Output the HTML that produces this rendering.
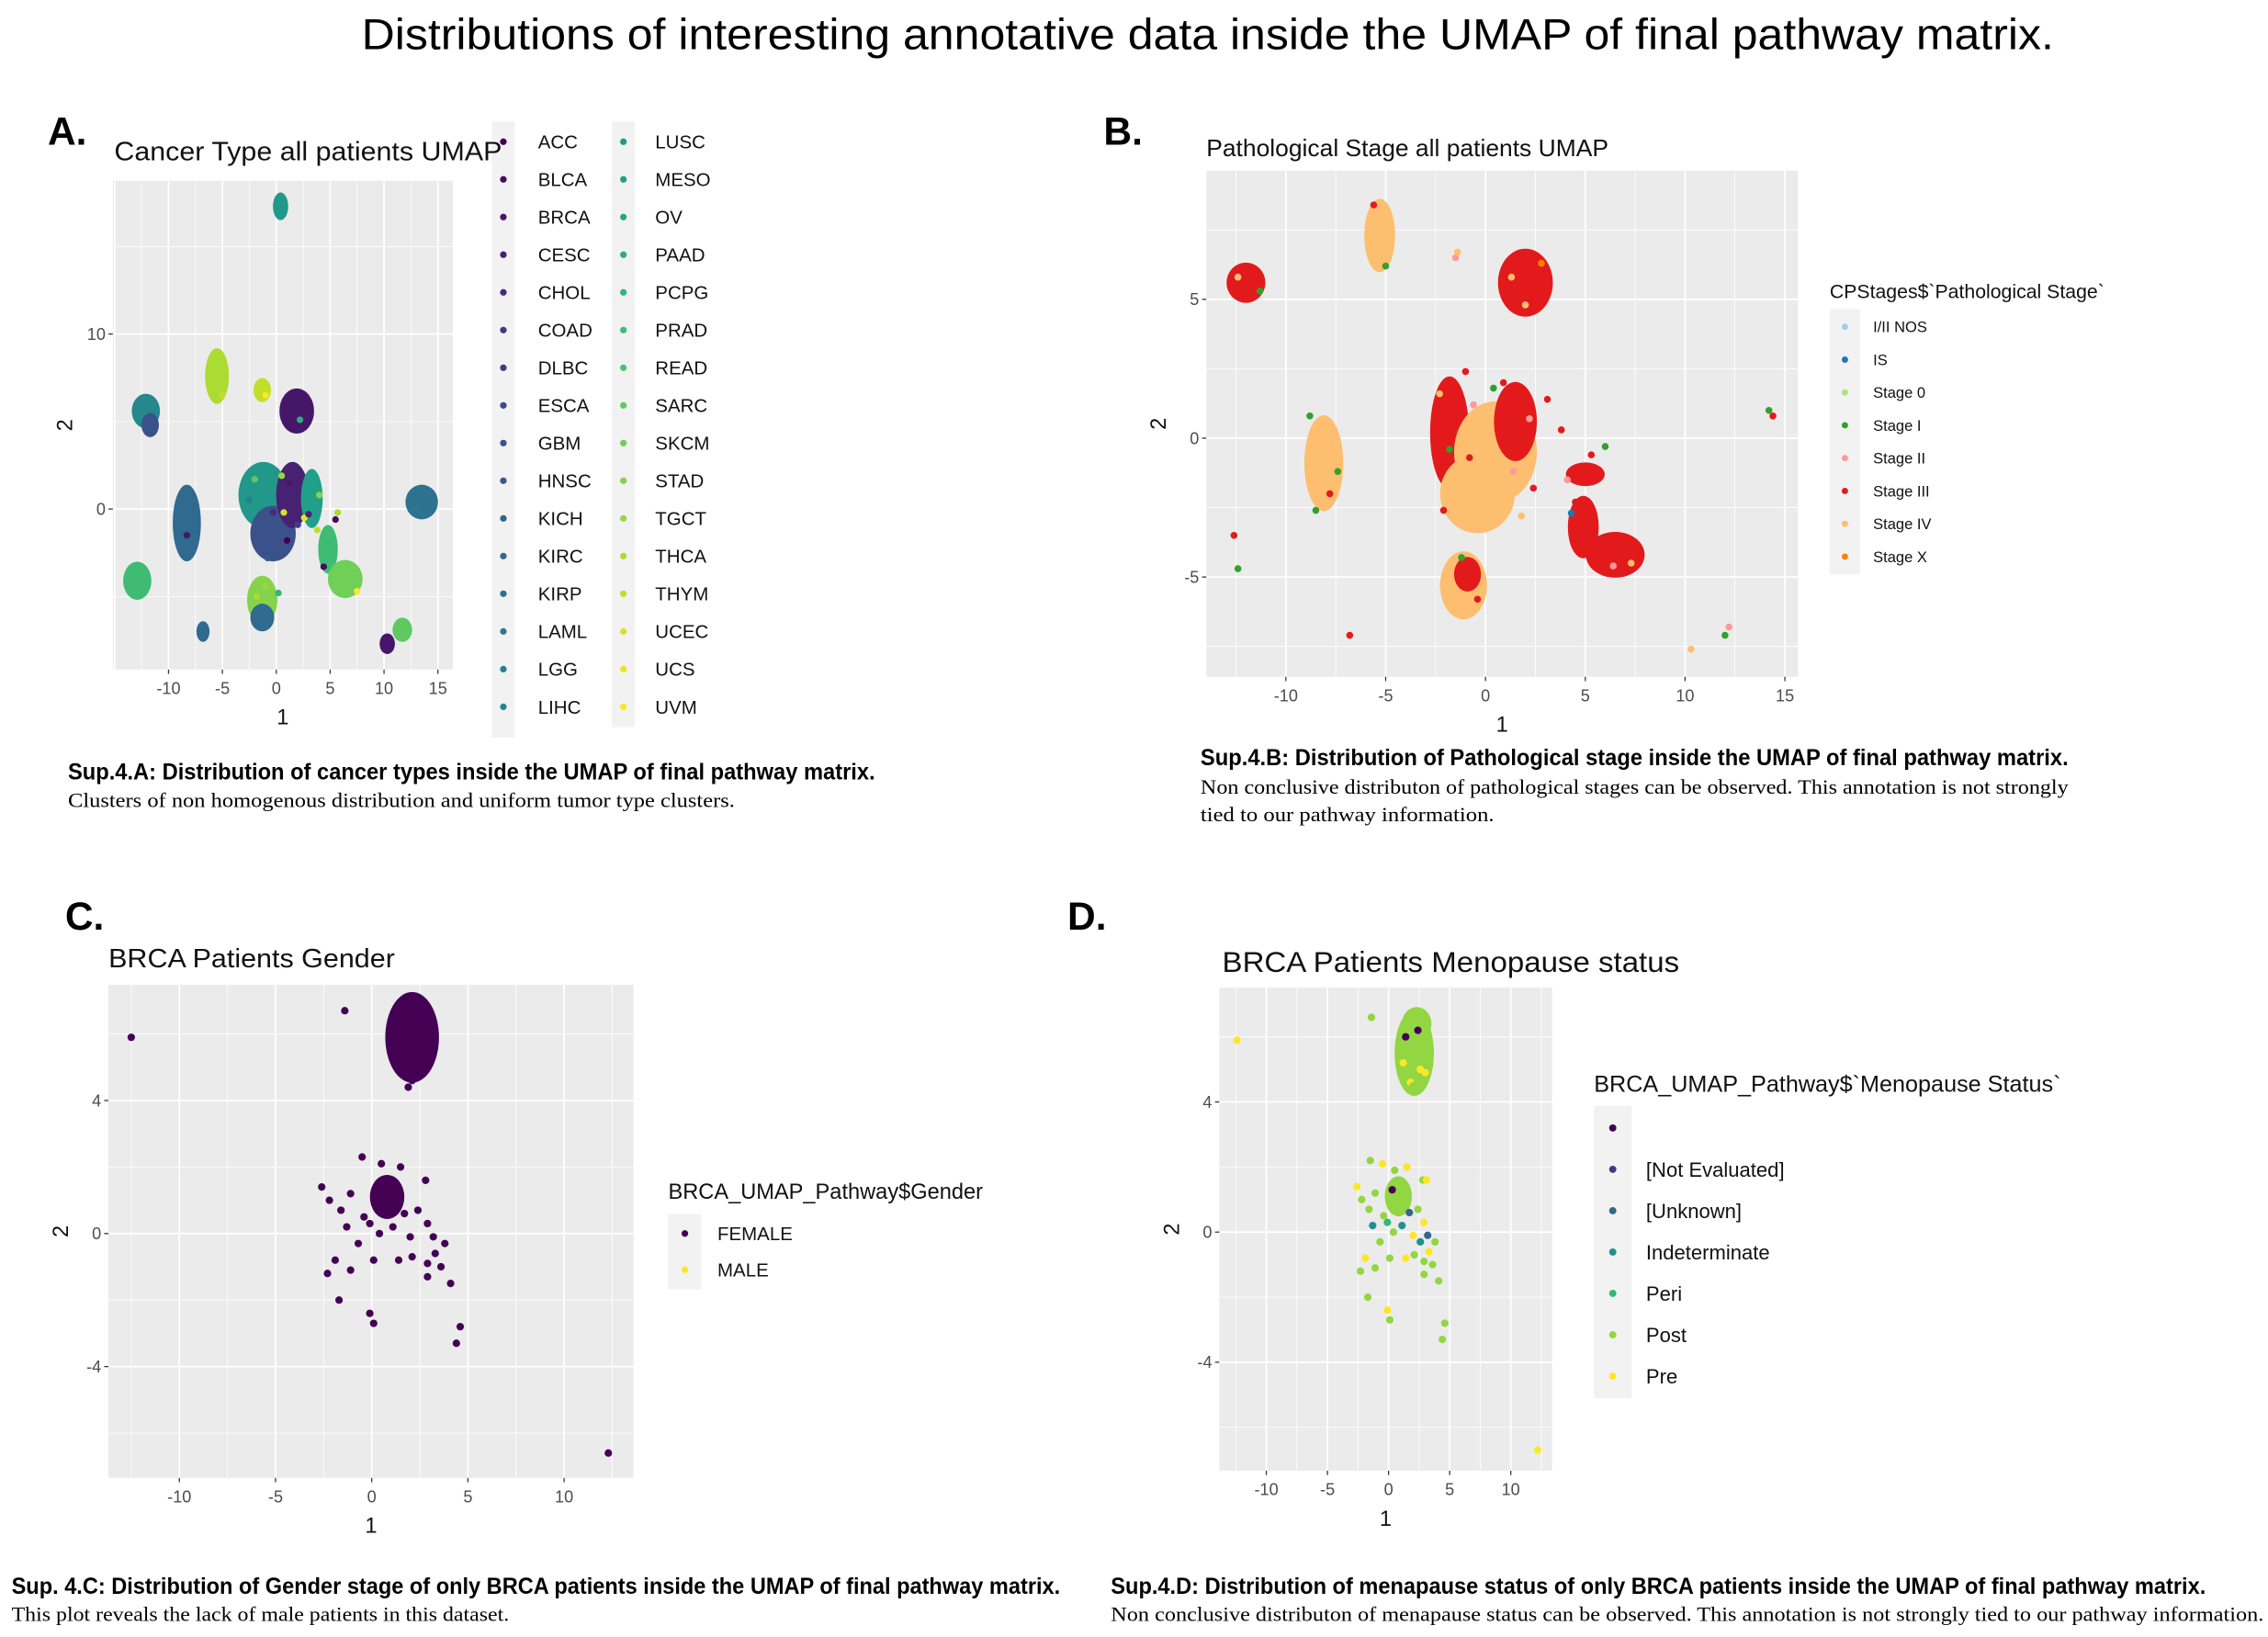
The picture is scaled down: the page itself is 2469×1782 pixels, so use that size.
<!DOCTYPE html>
<html><head><meta charset="utf-8"><style>
html,body{margin:0;padding:0;background:#fff;}
svg{display:block;}
</style></head><body>
<svg id="root" xmlns="http://www.w3.org/2000/svg" width="2469" height="1782" viewBox="0 0 1568 1132" preserveAspectRatio="none" font-family="Liberation Sans, sans-serif">
<rect width="1568" height="1132" fill="#fff"/>
<text x="250" y="34" font-size="30" textLength="1170" lengthAdjust="spacingAndGlyphs" fill="#000">Distributions of interesting annotative data inside the UMAP of final pathway matrix.</text>

<g font-family="Liberation Sans Narrow, Liberation Sans, sans-serif" font-weight="bold" font-size="27" fill="#000">
<text x="33" y="100">A.</text>
<text x="763" y="100">B.</text>
<text x="45" y="643">C.</text>
<text x="738" y="643">D.</text>
</g>

<g id="charts"></g>

<g font-size="18" fill="#111">
<text x="79" y="111" textLength="268" lengthAdjust="spacingAndGlyphs">Cancer Type all patients UMAP</text>
<text x="834" y="108" font-size="16.5" textLength="278" lengthAdjust="spacingAndGlyphs">Pathological Stage all patients UMAP</text>
<text x="75" y="669" textLength="198" lengthAdjust="spacingAndGlyphs">BRCA Patients Gender</text>
<text x="845" y="672" font-size="20" textLength="316" lengthAdjust="spacingAndGlyphs">BRCA Patients Menopause status</text>
</g>

<g font-family="Liberation Sans Narrow, Liberation Sans, sans-serif" font-weight="bold" font-size="16" fill="#000">
<text x="47" y="539" textLength="558" lengthAdjust="spacingAndGlyphs">Sup.4.A: Distribution of cancer types inside the UMAP of final pathway matrix.</text>
<text x="830" y="529" textLength="600" lengthAdjust="spacingAndGlyphs">Sup.4.B: Distribution of Pathological stage inside the UMAP of final pathway matrix.</text>
<text x="8" y="1102" textLength="725" lengthAdjust="spacingAndGlyphs">Sup. 4.C: Distribution of Gender stage of only BRCA patients inside the UMAP of final pathway matrix.</text>
<text x="768" y="1102" textLength="757" lengthAdjust="spacingAndGlyphs">Sup.4.D: Distribution of menapause status of only BRCA patients inside the UMAP of final pathway matrix.</text>
</g>
<g font-family="Liberation Serif, serif" font-size="14" fill="#000">
<text x="47" y="558" textLength="461" lengthAdjust="spacingAndGlyphs">Clusters of non homogenous distribution and uniform tumor type clusters.</text>
<text x="830" y="549" textLength="600" lengthAdjust="spacingAndGlyphs">Non conclusive distributon of pathological stages can be observed. This annotation is not strongly</text>
<text x="830" y="568" textLength="203" lengthAdjust="spacingAndGlyphs">tied to our pathway information.</text>
<text x="8" y="1121" textLength="344" lengthAdjust="spacingAndGlyphs">This plot reveals the lack of male patients in this dataset.</text>
<text x="768" y="1121" textLength="797" lengthAdjust="spacingAndGlyphs">Non conclusive distributon of menapause status can be observed. This annotation is not strongly tied to our pathway information.</text>
</g>
</svg>
<script>
// ---------- Chart A data (cancer types) ----------
const catsA = ['ACC','BLCA','BRCA','CESC','CHOL','COAD','DLBC','ESCA','GBM','HNSC','KICH','KIRC','KIRP','LAML','LGG','LIHC','LUAD','LUSC','MESO','OV','PAAD','PCPG','PRAD','READ','SARC','SKCM','STAD','TGCT','THCA','THYM','UCEC','UCS','UVM'];
const ticksAx = [-10,-5,0,5,10,15];
const ticksAy = [0,10];
const blobAx = [0.4,-12.1,-11.7,-5.5,-1.3,1.9,-8.3,-12.9,-1.2,-0.3,1.5,3.3,4.8,6.4,-1.3,-1.3,13.5,-6.8,10.3,11.7];
const blobAy = [17.3,5.6,4.8,7.6,6.8,5.6,-0.8,-4.1,0.8,-1.4,0.8,0.6,-2.3,-4.0,-5.2,-6.2,0.4,-7.0,-7.7,-6.9];
const blobArx = [0.4,1.0,0.5,0.8,0.5,1.3,1.0,1.0,2.0,1.8,1.2,0.7,0.6,1.3,1.1,0.8,1.2,0.3,0.4,0.6];
const blobAry = [0.6,0.8,0.5,1.4,0.5,1.1,2.0,0.9,1.7,1.4,1.7,1.5,1.2,0.9,1.2,0.6,0.8,0.4,0.4,0.5];
const blobAcat = [17,15,8,28,29,2,11,22,17,8,3,18,22,25,26,11,12,11,2,24];
const ptAx = [0.7,2.6,3.8,7.5,4.4,5.5,-8.3,0.5,-2.0,2.2,4.0,5.7,-1.0,-0.3,-2.5,1.0,-0.8,2.0,-1.8,0.2,3.0,12.8,-5.0,-1.0,1.2];
const ptAy = [-0.2,-0.5,-1.2,-4.7,-3.3,-0.6,-1.5,1.9,1.7,5.1,0.8,-0.2,-4.4,-0.2,0.5,-1.8,-2.8,-0.9,-5.0,-4.8,-0.3,0.0,6.5,6.5,1.5];
const ptAcat = [30,31,29,32,1,1,2,27,24,20,26,28,27,4,14,0,9,6,28,21,3,13,29,32,2];

// ---------- Chart B data (pathological stage) ----------
const catsB = ['I/II NOS','IS','Stage 0','Stage I','Stage II','Stage III','Stage IV','Stage X'];
const colB = ['#a6cee3','#1f78b4','#b2df8a','#33a02c','#fb9a99','#e31a1c','#fdbf6f','#ff7f00'];
const ticksBx = [-10,-5,0,5,10,15];
const ticksBy = [-5,0,5];
const blobBx = [-12,-5.3,2.0,-8.1,-1.8,0.5,-0.4,1.5,5.0,4.9,6.5,-1.1,-0.9];
const blobBy = [5.6,7.3,5.6,-0.9,0.2,-0.5,-2.0,0.6,-1.3,-3.2,-4.2,-5.3,-4.9];
const blobBrx = [0.8,0.6,1.2,0.8,0.8,1.9,1.7,0.9,0.8,0.6,1.3,1.0,0.5];
const blobBry = [0.6,1.2,1.1,1.6,1.9,1.7,1.3,1.3,0.3,1.0,0.7,1.1,0.5];
const blobBcat = [5,6,5,6,5,6,6,5,5,5,5,6,5];
const ptBx = [-11.3,-12.4,-5.0,-5.6,2.8,1.3,2.0,-8.8,-7.4,-8.5,-7.8,-2.3,-1.0,0.4,2.2,3.1,3.8,5.3,6.0,4.3,4.1,6.4,7.3,5.5,-1.5,-0.4,-12.6,-12.4,-6.8,10.3,12.0,12.2,14.2,14.4,-1.4,-1.2,1.4,-0.8,-1.8,2.4,0.9,-2.1,4.5,-0.6,1.8];
const ptBy = [5.3,5.8,6.2,8.4,6.3,5.8,4.8,0.8,-1.2,-2.6,-2.0,1.6,2.4,1.8,0.7,1.4,0.3,-0.6,-0.3,-2.7,-1.5,-4.6,-4.5,-3.8,6.5,-5.8,-3.5,-4.7,-7.1,-7.6,-7.1,-6.8,1.0,0.8,6.7,-4.3,-1.2,-0.7,-0.4,-1.8,2.0,-2.6,-2.3,1.2,-2.8];
const ptBcat = [3,6,3,5,7,6,6,3,3,3,5,6,5,3,4,5,5,5,3,1,4,4,6,5,4,5,5,3,5,6,3,4,3,5,6,3,4,5,3,5,5,5,5,4,6];

// ---------- Chart C data (gender) ----------
const catsC = ['FEMALE','MALE'];
const colC = ['#440154','#fde725'];
const ticksCx = [-10,-5,0,5,10];
const ticksCy = [-4,0,4];
const blobCx = [2.1,0.8];
const blobCy = [5.9,1.1];
const blobCrx = [1.2,0.7];
const blobCry = [1.25,0.55];
const blobCcat = [0,0];
const ptCx = [-12.5,-1.4,-0.5,0.5,1.5,2.8,-2.6,-1.1,-2.2,-1.6,-0.1,1.1,1.7,2.4,2.9,0.4,3.2,3.8,-0.7,-1.9,-1.1,0.1,1.4,2.1,2.9,3.6,2.9,4.1,-1.7,-0.1,0.1,4.6,4.4,12.3,-1.3,0.8,2.0,3.3,-2.3,-0.4,2.1,2.3,1.9];
const ptCy = [5.9,6.7,2.3,2.1,2.0,1.6,1.4,1.2,1.0,0.7,0.3,0.2,0.6,0.7,0.3,0.0,-0.1,-0.3,-0.3,-0.8,-1.1,-0.8,-0.8,-0.7,-0.9,-1.0,-1.3,-1.5,-2.0,-2.4,-2.7,-2.8,-3.3,-6.6,0.2,0.7,-0.1,-0.6,-1.2,0.5,4.6,7.0,4.4];
const ptCcat = [0,0,0,0,0,0,0,0,0,0,0,0,0,0,0,0,0,0,0,0,0,0,0,0,0,0,0,0,0,0,0,0,0,0,0,0,0,0,0,0,0,0,0];

// ---------- Chart D data (menopause) ----------
const catsD = ['','[Not Evaluated]','[Unknown]','Indeterminate','Peri','Post','Pre'];
const ticksDx = [-10,-5,0,5,10];
const ticksDy = [-4,0,4];
const blobDx = [2.1,2.3,0.8];
const blobDy = [5.5,6.4,1.1];
const blobDrx = [1.3,0.9,0.8];
const blobDry = [1.2,0.4,0.5];
const blobDcat = [5,5,5];
const ptDx = [-12.4,12.2,-1.4,1.4,2.6,3.0,1.8,2.4,3.2,1.2,2.0,-1.5,-0.5,0.5,1.5,2.8,-2.6,-1.1,-2.2,-1.6,-0.1,1.1,1.7,2.4,2.9,0.4,3.2,3.8,-0.7,-1.9,-1.1,0.1,1.4,2.1,2.9,3.6,2.9,4.1,-1.7,-0.1,0.1,4.6,4.4,-1.3,0.8,2.0,3.3,-2.3,-0.4,3.1,2.6,0.3];
const ptDy = [5.9,-6.7,6.6,6.0,5.0,4.9,4.6,6.2,5.6,5.2,4.5,2.2,2.1,1.9,2.0,1.6,1.4,1.2,1.0,0.7,0.3,0.2,0.6,0.7,0.3,0.0,-0.1,-0.3,-0.3,-0.8,-1.1,-0.8,-0.8,-0.7,-0.9,-1.0,-1.3,-1.5,-2.0,-2.4,-2.7,-2.8,-3.3,0.2,0.7,-0.1,-0.6,-1.2,0.5,1.6,-0.3,1.3];
const ptDcat = [6,6,5,0,6,6,6,0,5,6,5,5,6,5,6,5,6,5,5,5,4,3,2,5,6,5,2,5,5,6,5,5,6,5,5,5,5,5,5,6,5,5,5,3,5,6,6,5,5,6,3,0];

// ---------- helpers ----------
const NS = 'http://www.w3.org/2000/svg';
const root = document.getElementById('charts');
function mk(tag, attrs, parent){ const e=document.createElementNS(NS,tag); for(const k in attrs) e.setAttribute(k,attrs[k]); (parent||root).appendChild(e); return e; }
const vir = ['#440154','#482878','#3e4989','#31688e','#26828e','#1f9e89','#35b779','#6ece58','#b5de2b','#fde725'];
function hex2(c){return [1,3,5].map(i=>parseInt(c.substr(i,2),16));}
function viridis(t){ const p=t*(vir.length-1); const i=Math.min(Math.floor(p),vir.length-2); const f=p-i; const a=hex2(vir[i]), b=hex2(vir[i+1]); return 'rgb('+a.map((v,k)=>Math.round(v+(b[k]-v)*f)).join(',')+')'; }
const colA = catsA.map((c,i)=>viridis(i/(catsA.length-1)));
const colD = catsD.map((c,i)=>viridis(i/(catsD.length-1)));

function chart(id, L, d){
  const g = mk('g',{});
  
  
  const sx = v => L.x0v + L.kx*v;
  const sy = v => L.y0v - L.ky*v;
  const bg = mk('rect',{x:L.l,y:L.t,width:L.r-L.l,height:L.b-L.t,fill:'#ebebeb'},g);
  
  
  const xs = d.xt, ys = d.yt;
  const stepX = xs[1]-xs[0], stepY = ys[1]-ys[0];
  for(let v=xs[0]-stepX*3.5; v<=xs[xs.length-1]+stepX*3; v+=stepX){ const p=sx(v); if(p>L.l&&p<L.r) mk('line',{x1:p,x2:p,y1:L.t,y2:L.b,stroke:'#fff','stroke-width':0.5},g); }
  for(let v=ys[0]-stepY*3.5; v<=ys[ys.length-1]+stepY*3; v+=stepY){ const p=sy(v); if(p>L.t&&p<L.b) mk('line',{x1:L.l,x2:L.r,y1:p,y2:p,stroke:'#fff','stroke-width':0.5},g); }
  for(let v=xs[0]-stepX*3; v<=xs[xs.length-1]+stepX*3; v+=stepX){ const p=sx(v); if(p>L.l&&p<L.r) mk('line',{x1:p,x2:p,y1:L.t,y2:L.b,stroke:'#fff','stroke-width':1.1},g); }
  for(let v=ys[0]-stepY*3; v<=ys[ys.length-1]+stepY*3; v+=stepY){ const p=sy(v); if(p>L.t&&p<L.b) mk('line',{x1:L.l,x2:L.r,y1:p,y2:p,stroke:'#fff','stroke-width':1.1},g); }
  xs.forEach(v=>{ const p=sx(v);
    mk('line',{x1:p,x2:p,y1:L.b,y2:L.b+3,stroke:'#333','stroke-width':0.8},g);
    const t=mk('text',{x:p,y:L.b+17,'font-size':11.5,fill:'#4d4d4d','text-anchor':'middle'},g); t.textContent=v;
    
     });
  ys.forEach(v=>{ const p=sy(v);
    mk('line',{x1:L.l-3,x2:L.l,y1:p,y2:p,stroke:'#333','stroke-width':0.8},g);
    const t=mk('text',{x:L.l-5,y:p+4,'font-size':11.5,fill:'#4d4d4d','text-anchor':'end'},g); t.textContent=v;
    
     });
  const xt=mk('text',{x:(L.l+L.r)/2,y:L.b+38,'font-size':15,fill:'#111','text-anchor':'middle'},g); xt.textContent='1';
  
  
  const yx=L.l-28, yy=(L.t+L.b)/2;
  const yt=mk('text',{x:yx,y:yy,'font-size':15,fill:'#111','text-anchor':'middle',transform:'rotate(-90 '+yx+' '+yy+')'},g); yt.textContent='2';
  
  
  const clipId='clip-'+id;
  const cp=mk('clipPath',{id:clipId},g); mk('rect',{x:L.l,y:L.t,width:L.r-L.l,height:L.b-L.t},cp);
  const mg=mk('g',{'clip-path':'url(#'+clipId+')'},g);
  d.bx.forEach((v,i)=>{
    const e=mk('ellipse',{cx:sx(v),cy:sy(d.by[i]),rx:d.brx[i]*L.kx+d.r,ry:d.bry[i]*L.ky+d.r,fill:d.col[d.bc[i]]},mg);
    
    
  });
  d.px.forEach((v,i)=>{
    const c=mk('circle',{cx:sx(v),cy:sy(d.py[i]),r:d.r,fill:d.col[d.pc[i]]},mg);
    
    
  });
  return g;
}

chart('chart-a',{l:78,r:313,t:125,b:463,x0v:191,kx:7.45,y0v:352,ky:12.1},
  {xt:ticksAx,yt:ticksAy,bx:blobAx,by:blobAy,brx:blobArx,bry:blobAry,bc:blobAcat,px:ptAx,py:ptAy,pc:ptAcat,col:colA,cats:catsA,r:2.3});
chart('chart-b',{l:834,r:1243,t:118,b:468,x0v:1027,kx:13.8,y0v:303,ky:19.2},
  {xt:ticksBx,yt:ticksBy,bx:blobBx,by:blobBy,brx:blobBrx,bry:blobBry,bc:blobBcat,px:ptBx,py:ptBy,pc:ptBcat,col:colB,cats:catsB,r:2.4});
chart('chart-c',{l:75,r:438,t:681,b:1022,x0v:257,kx:13.3,y0v:853,ky:23},
  {xt:ticksCx,yt:ticksCy,bx:blobCx,by:blobCy,brx:blobCrx,bry:blobCry,bc:blobCcat,px:ptCx,py:ptCy,pc:ptCcat,col:colC,cats:catsC,r:2.6});
chart('chart-d',{l:843,r:1073,t:683,b:1017,x0v:960,kx:8.45,y0v:852,ky:22.5},
  {xt:ticksDx,yt:ticksDy,bx:blobDx,by:blobDy,brx:blobDrx,bry:blobDry,bc:blobDcat,px:ptDx,py:ptDy,pc:ptDcat,col:colD,cats:catsD,r:2.6});

function legend(id, title, cats, cols, o){
  const g=mk('g',{});
  
  
  if(title){ const t=mk('text',{x:o.tx,y:o.ty,'font-size':o.tfs,fill:'#111'},g); t.textContent=title;
    
     }
  const clipId='lclip-'+id;
  const cp=mk('clipPath',{id:clipId},g); mk('rect',{x:0,y:0,width:1568,height:o.clipB||1132},cp);
  const lg=mk('g',{'clip-path':'url(#'+clipId+')'},g);
  o.cols.forEach(col=>{
    mk('rect',{x:col.kx,y:col.y0-o.dy/2-1,width:o.kw,height:o.dy*(col.n)+2,fill:'#f2f2f2'},lg);
  });
  let idx=0;
  o.cols.forEach(col=>{
    for(let j=0;j<col.n && idx<cats.length;j++,idx++){
      const y=col.y0+j*o.dy;
      const e=mk('g',{},lg);
      
      
      mk('circle',{cx:col.kx+o.kw/2,cy:y,r:o.kr,fill:cols[idx]},e);
      const t=mk('text',{x:col.lx,y:y+o.fs*0.36,'font-size':o.fs,fill:'#111'},e); t.textContent=cats[idx];
    }
  });
}
legend('chart-a','',catsA,colA,{fs:13,dy:26.05,kw:16,kr:2.3,clipB:510,cols:[{kx:340,lx:372,y0:98,n:17},{kx:423,lx:453,y0:98,n:16}]});
legend('chart-b','CPStages$`Pathological Stage`',catsB,colB,{tx:1265,ty:206,tfs:13.5,fs:10.5,dy:22.7,kw:21,kr:2.2,cols:[{kx:1265,lx:1295,y0:226,n:8}]});
legend('chart-c','BRCA_UMAP_Pathway$Gender',catsC,colC,{tx:462,ty:829,tfs:15,fs:13,dy:25,kw:23,kr:2.3,cols:[{kx:462,lx:496,y0:853,n:2}]});
legend('chart-d','BRCA_UMAP_Pathway$`Menopause Status`',catsD,colD,{tx:1102,ty:755,tfs:16,fs:14,dy:28.6,kw:26,kr:2.5,cols:[{kx:1102,lx:1138,y0:780,n:7}]});
</script>
</body></html>
